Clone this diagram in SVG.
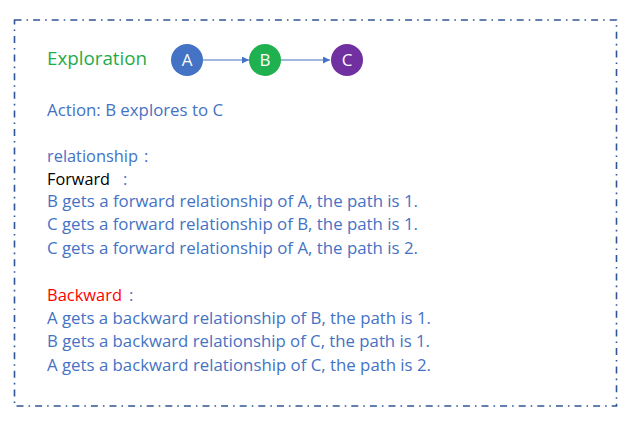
<svg xmlns="http://www.w3.org/2000/svg" width="636" height="425" viewBox="0 0 636 425">
<style>
.t{font-family:"Open Sans","Liberation Sans",sans-serif;font-size:16.5px;fill:#4472c4}
.n{font-family:"Open Sans","Liberation Sans",sans-serif;font-size:17px;fill:#fff;text-anchor:middle}
.edge{stroke:#4472c4;stroke-width:1.2;fill:none;marker-end:url(#ah)}
</style>
<defs>
<marker id="ah" viewBox="0 0 10 10" refX="10" refY="5" markerWidth="7" markerHeight="7" markerUnits="userSpaceOnUse" orient="auto">
<path d="M0,0 L10,5 L0,10 z" fill="#4472c4"/>
</marker>
</defs>
<rect width="636" height="425" fill="#fff"/>
<rect id="frame" x="14.5" y="20" width="602" height="386" fill="none" stroke="#2f5597" stroke-width="1.6" stroke-dasharray="7 5 1.6 5"/>
<text x="47" y="65" style="font-family:'Open Sans','Liberation Sans',sans-serif;font-size:19px;fill:#1fab4a" textLength="100" lengthAdjust="spacingAndGlyphs">Exploration</text>
<g id="connectors">
<line class="edge" x1="203" y1="60" x2="249" y2="60"/>
<line class="edge" x1="281" y1="60" x2="330" y2="60"/>
</g>
<g id="nodeA"><circle cx="187" cy="60" r="16" fill="#4472c4"/><text class="n" x="187" y="66">A</text></g>
<g id="nodeB"><circle cx="265" cy="60" r="16" fill="#1fb050"/><text class="n" x="265" y="66">B</text></g>
<g id="nodeC"><circle cx="347" cy="60" r="16" fill="#7030a0"/><text class="n" x="347" y="66">C</text></g>
<text class="t" x="47" y="116" textLength="176" lengthAdjust="spacingAndGlyphs">Action: B explores to C</text>
<text class="t" x="47" y="162" textLength="91" lengthAdjust="spacingAndGlyphs">relationship</text>
<text class="t" x="144" y="162">:</text>
<text class="t" x="47" y="185" style="fill:#000" textLength="63" lengthAdjust="spacingAndGlyphs">Forward</text>
<text class="t" x="123" y="185">:</text>
<text class="t" x="47" y="207" textLength="371" lengthAdjust="spacingAndGlyphs">B gets a forward relationship of A, the path is 1.</text>
<text class="t" x="47" y="230" textLength="371" lengthAdjust="spacingAndGlyphs">C gets a forward relationship of B, the path is 1.</text>
<text class="t" x="47" y="254" textLength="371" lengthAdjust="spacingAndGlyphs">C gets a forward relationship of A, the path is 2.</text>
<text class="t" x="47" y="301" style="fill:#ff0000" textLength="75" lengthAdjust="spacingAndGlyphs">Backward</text>
<text class="t" x="129" y="301">:</text>
<text class="t" x="47" y="324" textLength="384" lengthAdjust="spacingAndGlyphs">A gets a backward relationship of B, the path is 1.</text>
<text class="t" x="47" y="347" textLength="383" lengthAdjust="spacingAndGlyphs">B gets a backward relationship of C, the path is 1.</text>
<text class="t" x="47" y="371" textLength="384" lengthAdjust="spacingAndGlyphs">A gets a backward relationship of C, the path is 2.</text>
</svg>
